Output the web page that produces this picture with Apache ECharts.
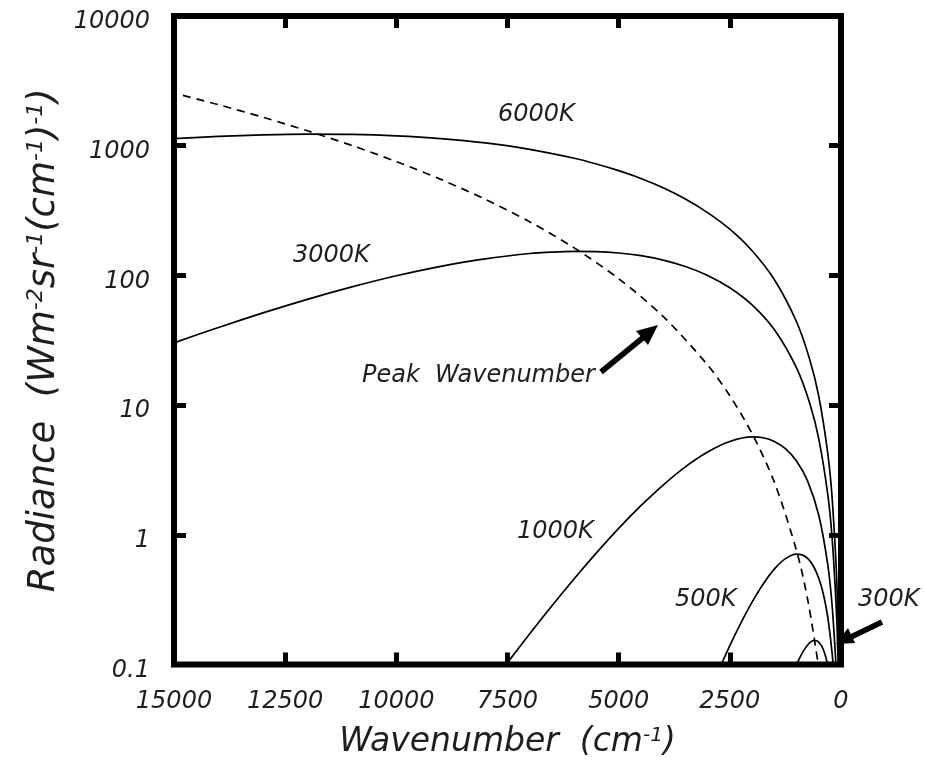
<!DOCTYPE html>
<html>
<head>
<meta charset="utf-8">
<script src="https://cdn.jsdelivr.net/npm/echarts@6/dist/echarts.min.js"></script>
<style>html,body{margin:0;padding:0;background:#fff}#chart{width:925px;height:764px}</style>
</head>
<body>
<div id="chart"></div>
<script>
// ---- Data (wavenumber in cm^-1, radiance in W m^-2 sr^-1 (cm^-1)^-1) ----
const xTicks = [15000, 12500, 10000, 7500, 5000, 2500, 0];
const yTicks = [0.1, 1, 10, 100, 1000, 10000];

const wn6000  = [15000, 14000, 13000, 12000, 11000, 10000, 9000, 8000, 7000, 6000, 5500, 5000, 4500, 4000, 3500, 3000, 2500, 2000, 1500, 1000, 700, 500, 300, 200, 100, 50, 40];
const rad6000 = [1132, 1180, 1211, 1226, 1221, 1191, 1135, 1050, 937, 800, 723, 642, 559, 474, 388, 305, 227, 155, 92.9, 43.9, 22.3, 11.7, 4.31, 1.94, 0.491, 0.124, 0.079];

const wn3000  = [15000, 14000, 13000, 12000, 11000, 10000, 9000, 8000, 7000, 6500, 6000, 5500, 5000, 4500, 4000, 3500, 3000, 2500, 2000, 1500, 1000, 700, 500, 300, 200, 100, 60];
const rad3000 = [30.2, 39.7, 51.4, 65.4, 81.5, 99.3, 117.5, 134.3, 147.5, 151.4, 153.3, 152.7, 148.9, 141.9, 131.2, 117.1, 100, 80.3, 59.2, 38.2, 19.35, 10.24, 5.49, 2.08, 0.946, 0.2425, 0.088];

const wn1000  = [8000, 7500, 7000, 6500, 6000, 5500, 5000, 4500, 4000, 3500, 3000, 2500, 2000, 1750, 1500, 1250, 1000, 750, 500, 300, 200, 120, 100];
const rad1000 = [0.0612, 0.1034, 0.1724, 0.2834, 0.458, 0.7248, 1.12, 1.676, 2.42, 3.342, 4.35, 5.24, 5.68, 5.60, 5.25, 4.61, 3.70, 2.59, 1.414, 0.596, 0.286, 0.109, 0.077];

const wn500   = [2800, 2700, 2500, 2250, 2000, 1750, 1500, 1250, 1000, 875, 750, 625, 500, 400, 300, 200, 150];
const rad500  = [0.0828, 0.0989, 0.1399, 0.2095, 0.3027, 0.4177, 0.544, 0.655, 0.710, 0.700, 0.657, 0.577, 0.463, 0.3527, 0.2346, 0.1225, 0.0745];

const wn300   = [1050, 1000, 900, 800, 700, 600, 500, 400, 300, 250];
const rad300  = [0.088, 0.0993, 0.1175, 0.1343, 0.1475, 0.1533, 0.1489, 0.1312, 0.1, 0.0803];

const wnPeak  = [14800, 14000, 13000, 12000, 11000, 10000, 9000, 8000, 7000, 6000, 5000, 4000, 3000, 2500, 2000, 1500, 1000, 750, 500, 450];
const radPeak = [2445, 2070, 1657, 1303, 1004, 754, 550, 386, 259, 163, 94.3, 48.3, 20.4, 11.8, 6.03, 2.55, 0.754, 0.318, 0.0943, 0.0688];

const curveNames = ['6000K', '3000K', '1000K', '500K', '300K', 'Peak Wavenumber'];

// ---- Build chart ----
const zip = (xs, ys) => xs.map((x, i) => [x, ys[i]]);
const FONT = 'DejaVu Sans';
const TXT = '#1e1e1e';

function lineSeries(name, xs, ys, dashed) {
  return {
    name: name,
    type: 'line',
    data: zip(xs, ys),
    showSymbol: false,
    symbol: 'none',
    smooth: 0.3,
    clip: true,
    silent: true,
    lineStyle: { color: '#000', width: 1.7, type: dashed ? [8, 6] : 'solid' },
    z: 3
  };
}

const fmtNum = v => String(Number(Number(v).toPrecision(6)));

const tickStyle = { show: true, inside: true, length: 12, lineStyle: { color: '#000', width: 5 } };
const noLine = { show: false, onZero: false };

const option = {
  animation: false,
  backgroundColor: '#fff',
  grid: { left: 174, right: 84, top: 16, bottom: 99, show: true, borderColor: '#000', borderWidth: 6, backgroundColor: 'transparent', z: 5 },
  xAxis: [
    {
      type: 'value', min: 0, max: 15000, interval: 2500, inverse: true, position: 'bottom',
      axisLine: noLine, splitLine: { show: false },
      axisTick: tickStyle,
      axisLabel: { margin: 25, fontFamily: FONT, fontStyle: 'italic', fontSize: 24, color: TXT, formatter: fmtNum },
      name: 'Wavenumber  (cm{sup|-1})',
      nameLocation: 'middle', nameGap: 61,
      nameTextStyle: {
        fontFamily: FONT, fontStyle: 'italic', fontSize: 33, color: TXT,
        rich: { sup: { fontFamily: FONT, fontStyle: 'italic', fontSize: 20, color: TXT, verticalAlign: 'top', padding: [0, 0, 14, 0] } }
      }
    },
    {
      type: 'value', min: 0, max: 15000, interval: 2500, inverse: true, position: 'top',
      axisLine: noLine, splitLine: { show: false },
      axisTick: tickStyle, axisLabel: { show: false }
    }
  ],
  yAxis: [
    {
      type: 'log', logBase: 10, min: 0.1, max: 10000, position: 'left',
      axisLine: noLine, splitLine: { show: false }, minorTick: { show: false },
      axisTick: tickStyle,
      axisLabel: { margin: 24, fontFamily: FONT, fontStyle: 'italic', fontSize: 24, color: TXT, formatter: fmtNum, verticalAlign: 'top', lineHeight: 12 },
      name: 'Radiance  (Wm{sup|-2}sr{sup|-1}(cm{sup|-1}){sup|-1})',
      nameLocation: 'middle', nameGap: 110, nameRotate: 90,
      nameTextStyle: {
        fontFamily: FONT, fontStyle: 'italic', fontSize: 37, color: TXT,
        rich: { sup: { fontFamily: FONT, fontStyle: 'italic', fontSize: 22, color: TXT, verticalAlign: 'top', padding: [0, 0, 15, 0] } }
      }
    },
    {
      type: 'log', logBase: 10, min: 0.1, max: 10000, position: 'right',
      axisLine: noLine, splitLine: { show: false }, minorTick: { show: false },
      axisTick: tickStyle, axisLabel: { show: false }
    }
  ],
  series: [
    lineSeries(curveNames[0], wn6000, rad6000, false),
    lineSeries(curveNames[1], wn3000, rad3000, false),
    lineSeries(curveNames[2], wn1000, rad1000, false),
    lineSeries(curveNames[3], wn500, rad500, false),
    lineSeries(curveNames[4], wn300, rad300, false),
    lineSeries(curveNames[5], wnPeak, radPeak, true)
  ],
  graphic: [
    { type: 'text', left: 498, top: 103, style: { text: '6000K', font: 'italic 24px "DejaVu Sans"', fill: TXT } },
    { type: 'text', left: 293, top: 244, style: { text: '3000K', font: 'italic 24px "DejaVu Sans"', fill: TXT } },
    { type: 'text', left: 362, top: 364, style: { text: 'Peak  Wavenumber', font: 'italic 24px "DejaVu Sans"', fill: TXT } },
    { type: 'text', left: 517, top: 520, style: { text: '1000K', font: 'italic 24px "DejaVu Sans"', fill: TXT } },
    { type: 'text', left: 675, top: 588, style: { text: '500K', font: 'italic 24px "DejaVu Sans"', fill: TXT } },
    { type: 'text', left: 858, top: 588, style: { text: '300K', font: 'italic 24px "DejaVu Sans"', fill: TXT } },
    { type: 'polyline', shape: { points: [[601, 372], [645, 336]] }, style: { stroke: '#000', lineWidth: 5.5 }, z: 10 },
    { type: 'polygon', shape: { points: [[658, 325], [648, 345], [636, 331]] }, style: { fill: '#000' }, z: 10 },
    { type: 'polyline', shape: { points: [[882, 622], [851, 637]] }, style: { stroke: '#000', lineWidth: 5.5 }, z: 10 },
    { type: 'polygon', shape: { points: [[836, 644], [848, 628], [855, 643]] }, style: { fill: '#000' }, z: 10 }
  ]
};

const chart = echarts.init(document.getElementById('chart'), null, { renderer: 'canvas' });
chart.setOption(option);
</script>
</body>
</html>
